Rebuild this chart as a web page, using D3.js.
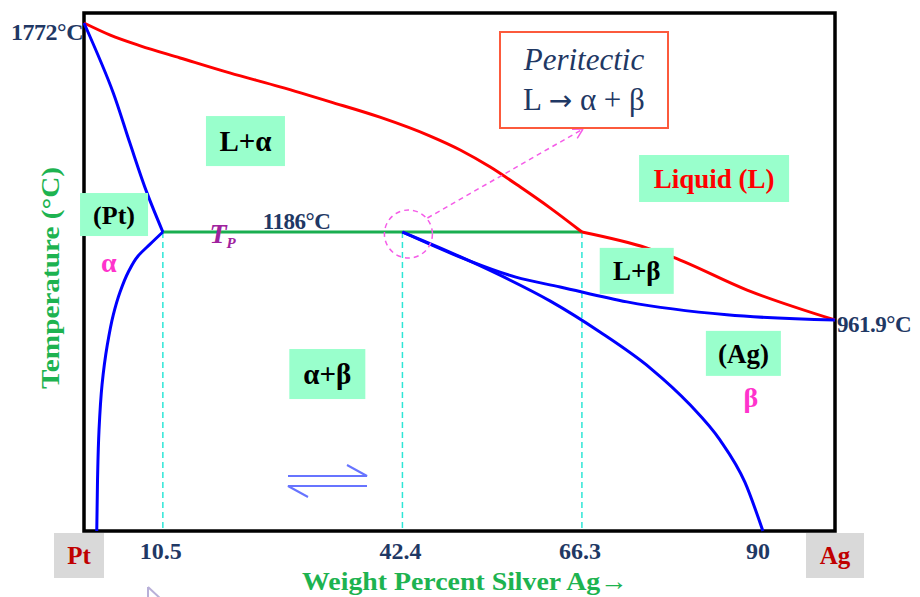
<!DOCTYPE html>
<html><head><meta charset="utf-8">
<script src="https://cdn.jsdelivr.net/npm/d3@7"></script>
<style>body{margin:0;background:#fff}svg{display:block}</style>
</head><body>
<svg id="c" width="920" height="597"></svg>
<script>
// ---- data (wt% Ag, temperature °C) ----
const compositionTicks = [10.5, 42.4, 66.3, 90];
const tickLabels = ["10.5", "42.4", "66.3", "90"];
const dashedComps = [10.5, 42.4, 66.3];
const keyTemps = [1772, 1186, 961.9];
const tempLabels = ["1772°C", "1186°C", "961.9°C"];
const peritecticTemp = 1186;
const peritecticRange = [10.5, 66.3];
const liquidusAlpha = [[0,1772],[3.5,1738],[7.5,1708],[12.8,1674],[19.4,1632],[26.1,1593],[32.8,1551],[39.4,1508],[46.1,1455],[50.1,1416],[54.1,1368],[58.1,1312],[62.1,1253],[66.3,1186]];
const liquidusBeta = [[66.3,1186],[75.0,1145],[78.4,1122],[88.3,1038],[100,961.9]];
const solidusAlpha = [[0,1772],[3.9,1576],[6.1,1436],[8.4,1295],[10.5,1186]];
const solvusAlpha = [[10.5,1186],[8.8,1155],[7.2,1125],[5.9,1084],[4.8,1033],[3.9,975],[3.1,895],[2.4,789],[2.0,669],[1.8,536],[1.7,400]];
const solidusBeta = [[42.4,1186],[51.0,1115],[57.5,1071],[63.4,1046],[72.3,1008],[85.6,975],[100,961.9]];
const solvusBeta = [[42.4,1186],[48.7,1135],[55.4,1076],[62.1,1010],[68.7,930],[75.4,834],[80.7,736],[84.7,642],[88.0,530],[90.4,400]];

// ---- scales ----
const x = d3.scaleLinear().domain([0, 100]).range([84, 835]);
const y = d3.scaleLinear().domain([1800, 1772, 1186, 961.9, 400]).range([13, 23, 232, 320, 531]);

const svg = d3.select("#c");
const SERIF = "'Liberation Serif','Times New Roman',serif";
const NAVY = "#1f3864", GREEN = "#1db350", MINT = "#99ffcc";

// frame
svg.append("rect").attr("x", x(0)).attr("y", y(1800))
  .attr("width", x(100) - x(0)).attr("height", y(400) - y(1800))
  .attr("fill", "none").attr("stroke", "#000").attr("stroke-width", 3.5);

// dashed composition lines
svg.selectAll("line.dc").data(dashedComps).join("line").attr("class", "dc")
  .attr("x1", d => x(d)).attr("x2", d => x(d))
  .attr("y1", y(peritecticTemp)).attr("y2", y(400) - 2)
  .attr("stroke", "#2ee6d6").attr("stroke-width", 1.5).attr("stroke-dasharray", "6,4");

// peritectic isotherm
svg.append("line").attr("x1", x(peritecticRange[0])).attr("x2", x(peritecticRange[1]))
  .attr("y1", y(peritecticTemp)).attr("y2", y(peritecticTemp))
  .attr("stroke", "#1aae50").attr("stroke-width", 3);

const lineX = d3.line().x(d => x(d[0])).y(d => y(d[1])).curve(d3.curveMonotoneX);
const lineY = d3.line().x(d => x(d[0])).y(d => y(d[1])).curve(d3.curveMonotoneY);
const curves = [
  [liquidusAlpha, "#ff0000", lineX], [liquidusBeta, "#ff0000", lineX],
  [solidusAlpha, "#0000ff", lineY], [solvusAlpha, "#0000ff", lineY],
  [solidusBeta, "#0000ff", lineX], [solvusBeta, "#0000ff", lineX]
];
svg.selectAll("path.curve").data(curves).join("path").attr("class", "curve")
  .attr("d", d => d[2](d[0])).attr("fill", "none")
  .attr("stroke", d => d[1]).attr("stroke-width", 3).attr("stroke-linejoin", "round");

// peritectic highlight circle and arrow
const cx = x(42.4) + 6, cy = y(peritecticTemp) + 2;
const MAG = "#f55ce8";
svg.append("circle").attr("cx", cx).attr("cy", cy).attr("r", 24)
  .attr("fill", "none").attr("stroke", MAG).attr("stroke-width", 1.5).attr("stroke-dasharray", "5,4");
const ax0 = cx + 19, ay0 = cy - 16, ax1 = 583, ay1 = 129;
svg.append("line").attr("x1", ax0).attr("y1", ay0).attr("x2", ax1).attr("y2", ay1)
  .attr("stroke", MAG).attr("stroke-width", 1.5).attr("stroke-dasharray", "5,4");
const ang = Math.atan2(ay1 - ay0, ax1 - ax0);
[0.5, -0.5].forEach(o => {
  svg.append("line").attr("x1", ax1).attr("y1", ay1)
    .attr("x2", ax1 - 11 * Math.cos(ang + o)).attr("y2", ay1 - 11 * Math.sin(ang + o))
    .attr("stroke", MAG).attr("stroke-width", 1.5);
});

// Peritectic box
svg.append("rect").attr("x", 500).attr("y", 32).attr("width", 168).attr("height", 96)
  .attr("fill", "#fff").attr("stroke", "#fc5a3c").attr("stroke-width", 2);
svg.append("text").attr("x", 584).attr("y", 70).attr("text-anchor", "middle")
  .attr("font-family", SERIF).attr("font-style", "italic").attr("font-size", 31).attr("fill", NAVY)
  .text("Peritectic");
const eq = svg.append("text").attr("x", 584).attr("y", 110).attr("text-anchor", "middle")
  .attr("font-family", SERIF).attr("font-size", 31).attr("fill", NAVY);
eq.append("tspan").text("L ");
eq.append("tspan").attr("font-family", "'DejaVu Sans',sans-serif").attr("font-size", 28).text("→");
eq.append("tspan").text(" α + β");

// region label boxes (centre in data coords, size in px)
const boxes = [
  {t: "L+α", c: [21.5, 1441], w: 79, h: 50, fs: 29, col: "#000"},
  {t: "(Pt)", c: [4.0, 1235], w: 68, h: 43, fs: 26, col: "#000"},
  {t: "Liquid (L)", c: [83.9, 1336], w: 150, h: 47, fs: 27, col: "#ff0000"},
  {t: "L+β", c: [73.6, 1087], w: 74, h: 46, fs: 27, col: "#000"},
  {t: "α+β", c: [32.4, 818], w: 76, h: 50, fs: 29, col: "#000"},
  {t: "(Ag)", c: [87.8, 873], w: 75, h: 45, fs: 27, col: "#000"}
];
const bg = svg.selectAll("g.box").data(boxes).join("g").attr("class", "box")
  .attr("transform", d => `translate(${x(d.c[0])},${y(d.c[1])})`);
bg.append("rect").attr("x", d => -d.w / 2).attr("y", d => -d.h / 2)
  .attr("width", d => d.w).attr("height", d => d.h).attr("fill", MINT);
bg.append("text").attr("text-anchor", "middle").attr("dy", "0.35em")
  .attr("font-family", SERIF).attr("font-weight", "bold")
  .attr("font-size", d => d.fs).attr("fill", d => d.col).text(d => d.t);

// end-member boxes
const ends = [{t: "Pt", v: 0, w: 50, dx: -5}, {t: "Ag", v: 100, w: 58, dx: 0}];
const eg = svg.selectAll("g.end").data(ends).join("g").attr("class", "end")
  .attr("transform", d => `translate(${x(d.v) + d.dx},${y(400) + 24})`);
eg.append("rect").attr("x", d => -d.w / 2).attr("y", -22).attr("width", d => d.w).attr("height", 45)
  .attr("fill", "#d9d9d9");
eg.append("text").attr("text-anchor", "middle").attr("dy", "0.35em")
  .attr("font-family", SERIF).attr("font-weight", "bold").attr("font-size", 25)
  .attr("fill", "#c00000").text(d => d.t);

// composition tick labels
svg.selectAll("text.tick").data(compositionTicks).join("text").attr("class", "tick")
  .attr("x", d => x(d) - 2).attr("y", 559).attr("text-anchor", "middle")
  .attr("font-family", SERIF).attr("font-weight", "bold").attr("font-size", 24).attr("fill", NAVY)
  .text((d, i) => tickLabels[i]);

// temperature labels
svg.append("text").attr("x", x(0) - 1).attr("y", y(keyTemps[0]) + 17).attr("text-anchor", "end")
  .attr("font-family", SERIF).attr("font-weight", "bold").attr("font-size", 24).attr("fill", NAVY)
  .attr("letter-spacing", -0.5).text(tempLabels[0]);
svg.append("text").attr("x", x(23.8)).attr("y", y(keyTemps[1]) - 3)
  .attr("font-family", SERIF).attr("font-weight", "bold").attr("font-size", 23).attr("fill", NAVY)
  .attr("letter-spacing", -0.5).text(tempLabels[1]);
svg.append("text").attr("x", x(100) + 2).attr("y", y(keyTemps[2]) + 12)
  .attr("font-family", SERIF).attr("font-weight", "bold").attr("font-size", 23).attr("fill", NAVY)
  .attr("letter-spacing", -0.5).text(tempLabels[2]);

// T_P
const tp = svg.append("text").attr("x", x(16.7)).attr("y", y(peritecticTemp) + 11)
  .attr("font-family", SERIF).attr("font-weight", "bold").attr("font-style", "italic")
  .attr("fill", "#a0229e");
tp.append("tspan").attr("font-size", 28).text("T");
tp.append("tspan").attr("font-size", 15).attr("dx", 0).attr("dy", 5).text("P");

// phase symbols
svg.append("text").attr("x", x(3.3)).attr("y", y(1186) + 40).attr("text-anchor", "middle")
  .attr("font-family", SERIF).attr("font-weight", "bold").attr("font-size", 28).attr("fill", "#ff33cc").text("α");
svg.append("text").attr("x", x(88.8)).attr("y", y(961.9) + 87).attr("text-anchor", "middle")
  .attr("font-family", SERIF).attr("font-weight", "bold").attr("font-size", 28).attr("fill", "#ff33cc").text("β");

// axis titles
svg.append("text").attr("transform", "translate(59,278) rotate(-90)").attr("text-anchor", "middle")
  .attr("font-family", SERIF).attr("font-weight", "bold").attr("font-size", 25).attr("fill", GREEN)
  .attr("textLength", 222).attr("lengthAdjust", "spacingAndGlyphs")
  .text("Temperature (°C)");
svg.append("text").attr("x", 465).attr("y", 590).attr("text-anchor", "middle")
  .attr("font-family", SERIF).attr("font-weight", "bold").attr("font-size", 26).attr("fill", GREEN)
  .attr("textLength", 326).attr("lengthAdjust", "spacingAndGlyphs")
  .text("Weight Percent Silver Ag→");

// equilibrium harpoons
const HB = "#4d5cff";
const hp = svg.append("g").attr("stroke", HB).attr("stroke-width", 2).attr("fill", "none").attr("opacity", 0.85);
hp.append("path").attr("d", "M288,476 H367 L347,465");
hp.append("path").attr("d", "M367,486 H288 L308,497");

// mouse-pointer remnant at the bottom
svg.append("path").attr("d", "M148,587 V600 M148,587 L162,600")
  .attr("stroke", "#b8b0d8").attr("stroke-width", 2).attr("fill", "none");
</script>
</body></html>
